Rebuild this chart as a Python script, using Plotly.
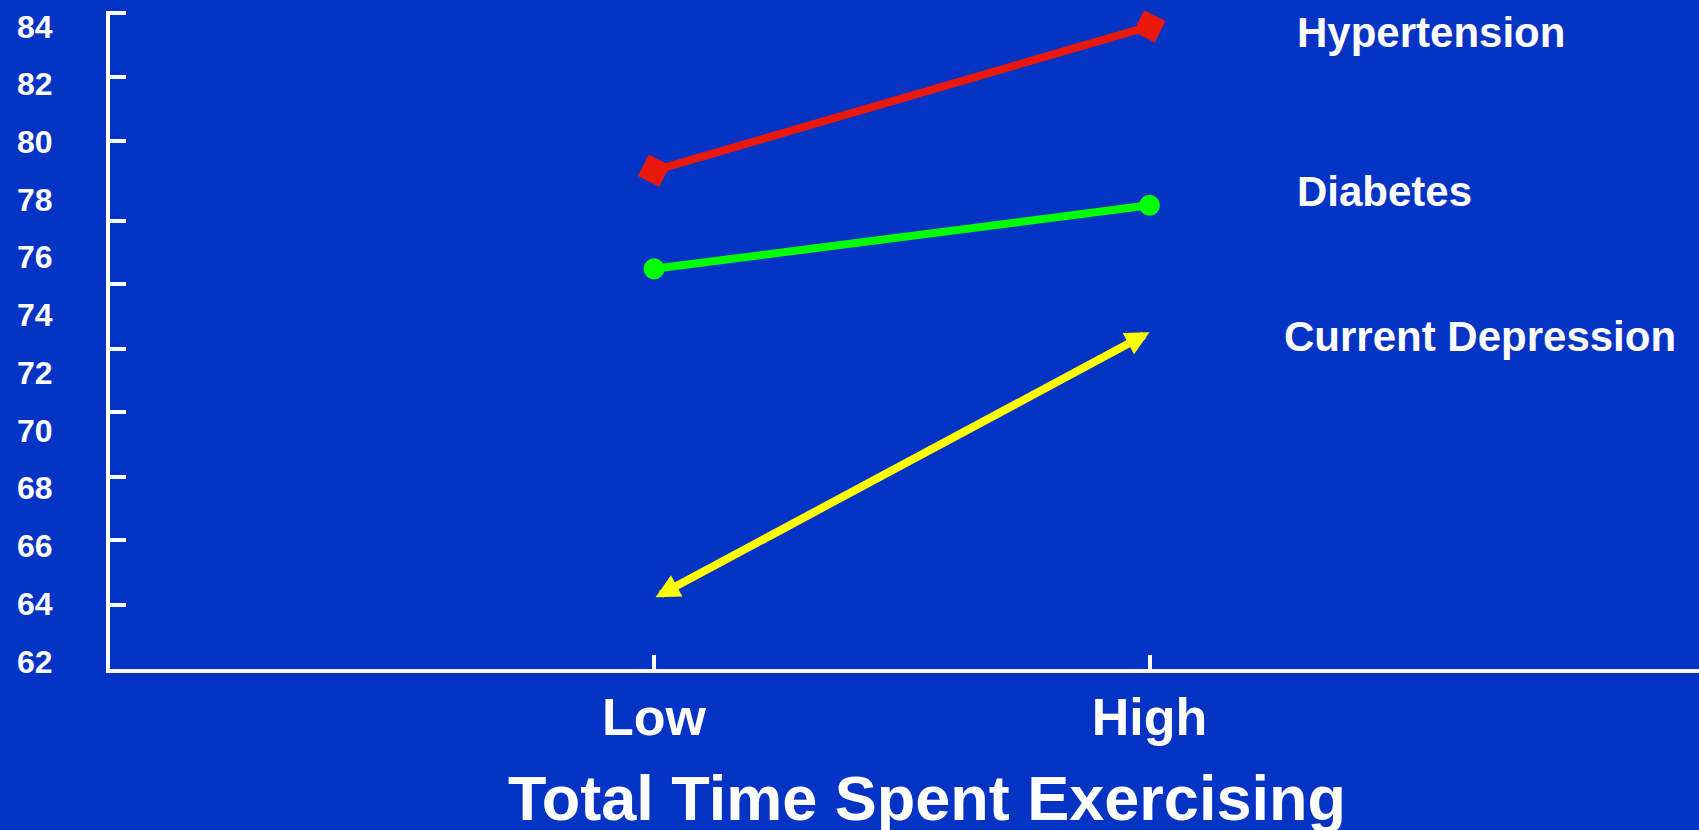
import plotly.graph_objects as go

# exercise level categories
levels = ["Low", "High"]

# outcome values
hypertension = [79.0, 84.0]
diabetes = [75.6, 77.8]
depression = [64.2, 73.4]

# y axis labels and the (unevenly spaced) tick marks on the axis
y_labels = [62, 64, 66, 68, 70, 72, 74, 76, 78, 80, 82, 84]
tick_marks = [84.45, 82.24, 80.02, 77.24, 75.06, 72.81, 70.64, 68.38, 66.2, 63.95]

BG = "#0533C3"
RED = "#E8190B"
GREEN = "#00FF00"
YELLOW = "#FFFF00"
FONT = "Liberation Sans, Arial, sans-serif"

x_pos = list(range(len(levels)))

fig = go.Figure()

fig.add_trace(go.Scatter(
    x=x_pos, y=hypertension, mode="lines+markers", name="Hypertension",
    line=dict(color=RED, width=8),
    marker=dict(symbol="square", size=24, angle=27, color=RED),
))

fig.add_trace(go.Scatter(
    x=x_pos, y=diabetes, mode="lines+markers", name="Diabetes",
    line=dict(color=GREEN, width=8),
    marker=dict(symbol="circle", size=21, color=GREEN),
))

# depression is drawn as a double headed arrow
fig.add_annotation(
    x=x_pos[1], y=depression[1], ax=x_pos[0], ay=depression[0],
    xref="x", yref="y", axref="x", ayref="y",
    text="", showarrow=True, arrowside="end+start",
    arrowhead=2, startarrowhead=2, arrowsize=0.6, startarrowsize=0.6,
    arrowwidth=8, arrowcolor=YELLOW, standoff=0, startstandoff=0,
)

# series labels on the right
labels = [("Hypertension", 0.746, 0.967),
          ("Diabetes", 0.7457, 0.725),
          ("Current Depression", 0.7375, 0.506)]
for txt, px, py in labels:
    fig.add_annotation(
        x=px, y=py, xref="paper", yref="paper", text=txt, showarrow=False,
        xanchor="left", yanchor="middle",
        font=dict(family=FONT, size=42, color="white", weight="bold"),
    )

fig.add_annotation(
    x=0.514, y=-0.196, xref="paper", yref="paper",
    text="Total Time Spent Exercising", showarrow=False,
    xanchor="center", yanchor="middle",
    font=dict(family=FONT, size=63, color="white", weight="bold"),
)

fig.update_yaxes(
    range=[61.74, 84.53], showgrid=False, zeroline=False,
    showline=True, linecolor="white", linewidth=4,
    tickmode="array", tickvals=y_labels, ticktext=[str(v) for v in y_labels],
    ticks="", ticklabelstandoff=47,
    tickfont=dict(family=FONT, size=32, color="white", weight="bold"),
    minor=dict(tickmode="array", tickvals=tick_marks, ticks="inside",
               ticklen=16, tickwidth=4, tickcolor="white"),
)

fig.update_xaxes(
    range=[-1.098, 2.109], showgrid=False, zeroline=False,
    showline=True, linecolor="white", linewidth=4,
    tickmode="array", tickvals=x_pos, ticktext=levels,
    ticks="inside", ticklen=14, tickwidth=4, tickcolor="white",
    ticklabelstandoff=0,
    tickfont=dict(family=FONT, size=52, color="white", weight="bold"),
)

fig.update_layout(
    width=1699, height=830,
    margin=dict(l=110, r=0, t=11, b=161, pad=0),
    paper_bgcolor=BG, plot_bgcolor=BG,
    showlegend=False,
)

fig.write_html("out.html", config={"displayModeBar": False},
               post_script="document.body.style.margin='0';document.body.style.overflow='hidden';")
